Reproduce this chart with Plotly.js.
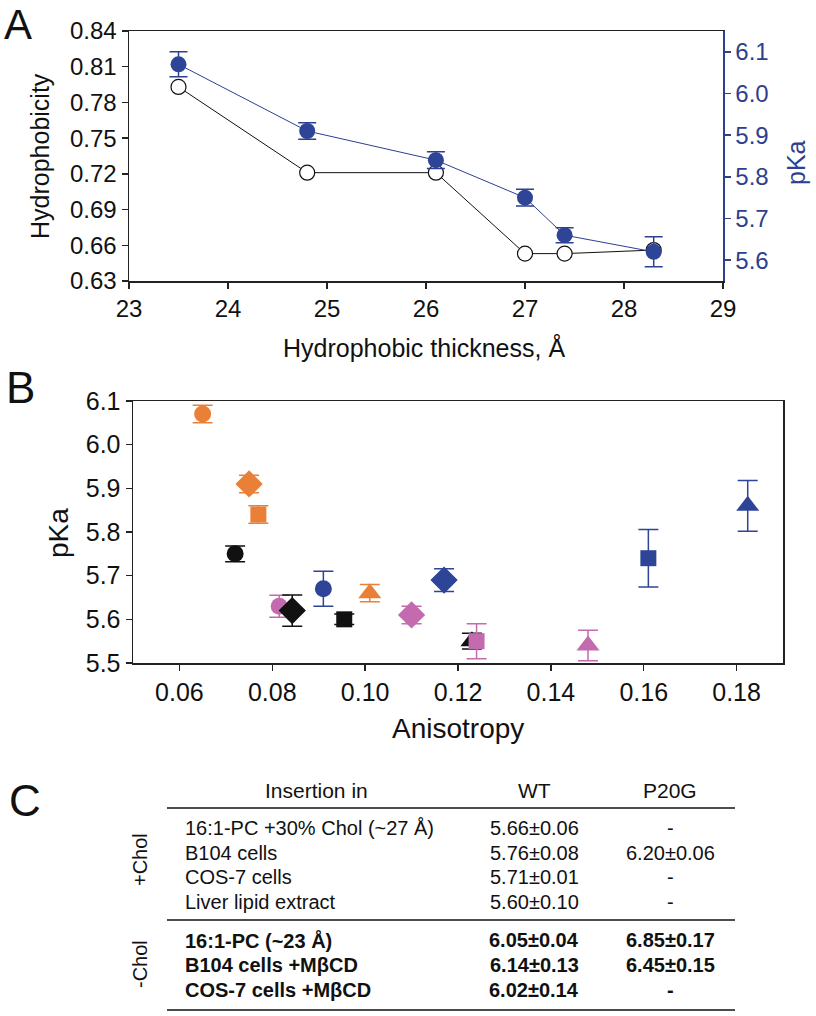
<!DOCTYPE html>
<html>
<head>
<meta charset="utf-8">
<script src="https://cdn.plot.ly/plotly-3.0.1.min.js"></script>
<style>html,body{margin:0;padding:0;background:#fff;}#chart{width:816px;height:1016px;}</style>
</head>
<body>
<div id="chart"></div>
<script>
// ---------- Panel A data ----------
const thickness = [23.5, 24.8, 26.1, 27.0, 27.4, 28.3];
const hydrophobicity = [0.793, 0.721, 0.721, 0.653, 0.653, 0.656];
const pKaA = [6.07, 5.91, 5.84, 5.75, 5.66, 5.62];
const pKaAErr = [0.03, 0.02, 0.02, 0.02, 0.018, 0.036];
const hydroTicks = [0.63, 0.66, 0.69, 0.72, 0.75, 0.78, 0.81, 0.84];
const pKaTicksA = [5.6, 5.7, 5.8, 5.9, 6.0, 6.1];

// ---------- Panel B data (symbols: circle, diamond, square, triangle) ----------
const symbolsB = ['circle', 'diamond', 'square', 'triangle-up'];
const orangeAniso = [0.065, 0.075, 0.077, 0.101];
const orangePKa = [6.07, 5.91, 5.84, 5.66];
const orangeErr = [0.02, 0.02, 0.02, 0.02];
const blackAniso = [0.072, 0.0843, 0.0955, 0.123];
const blackPKa = [5.75, 5.62, 5.60, 5.55];
const blackErr = [0.018, 0.036, 0.012, 0.018];
const pinkAniso = [0.0815, 0.110, 0.124, 0.148];
const pinkPKa = [5.63, 5.61, 5.55, 5.54];
const pinkErr = [0.025, 0.02, 0.04, 0.035];
const blueAniso = [0.091, 0.117, 0.161, 0.1824];
const bluePKa = [5.67, 5.69, 5.74, 5.86];
const blueErr = [0.04, 0.026, 0.066, 0.058];
const anisoTicks = [0.06, 0.08, 0.10, 0.12, 0.14, 0.16, 0.18];
const pKaTicksB = [5.5, 5.6, 5.7, 5.8, 5.9, 6.0, 6.1];

// ---------- Panel C table ----------
const tableHeader = ['Insertion in', 'WT', 'P20G'];
const groupPlusLabel = '+Chol';
const groupMinusLabel = '-Chol';
const rowsPlus = ['16:1-PC +30% Chol (~27 Å)', 'B104 cells', 'COS-7 cells', 'Liver lipid extract'];
const wtPlus = ['5.66±0.06', '5.76±0.08', '5.71±0.01', '5.60±0.10'];
const p20gPlus = ['-', '6.20±0.06', '-', '-'];
const rowsMinus = ['16:1-PC (~23 Å)', 'B104 cells +MβCD', 'COS-7 cells +MβCD'];
const wtMinus = ['6.05±0.04', '6.14±0.13', '6.02±0.14'];
const p20gMinus = ['6.85±0.17', '6.45±0.15', '-'];

// ---------- helpers ----------
const W = 816, H = 1016;
const fx = p => p / W;
const fy = p => 1 - p / H;
const FONT = 'Liberation Sans, Arial, Helvetica, sans-serif';
const NAVY = '#2E3F8F';
const BLUE = '#2E4597';
const ORANGE = '#EA8038';
const PINK = '#C46AAE';
const BLACK = '#111111';
const sizeFor = {'circle': 17, 'diamond': 21, 'square': 16, 'triangle-up': 20};

// build a panel-B trace from a subset (index list) of one colour group
function groupTrace(xs, ys, errs, color, idx) {
  return {
    type: 'scatter', mode: 'markers', xaxis: 'x2', yaxis: 'y3',
    x: idx.map(i => xs[i]), y: idx.map(i => ys[i]),
    error_y: {type: 'data', array: idx.map(i => errs[i]), visible: true, color: color, thickness: 1.5, width: 10},
    marker: {symbol: idx.map(i => symbolsB[i]), size: idx.map(i => sizeFor[symbolsB[i]]),
             color: color, opacity: 1, line: {width: 0}},
    showlegend: false
  };
}
const ALL = [0, 1, 2, 3];

const traces = [
  {
    type: 'scatter', mode: 'lines+markers', x: thickness, y: hydrophobicity,
    xaxis: 'x', yaxis: 'y',
    line: {color: BLACK, width: 1},
    marker: {symbol: 'circle', size: 15, color: '#ffffff', opacity: 1, line: {color: BLACK, width: 1.2}},
    showlegend: false
  },
  {
    type: 'scatter', mode: 'lines+markers', x: thickness, y: pKaA,
    xaxis: 'x', yaxis: 'y2',
    line: {color: NAVY, width: 1},
    error_y: {type: 'data', array: pKaAErr, visible: true, color: NAVY, thickness: 1.5, width: 9},
    marker: {symbol: 'circle', size: 16, color: BLUE, opacity: 1},
    showlegend: false
  },
  groupTrace(orangeAniso, orangePKa, orangeErr, ORANGE, ALL),
  groupTrace(pinkAniso, pinkPKa, pinkErr, PINK, [0]),
  groupTrace(blackAniso, blackPKa, blackErr, BLACK, ALL),
  groupTrace(pinkAniso, pinkPKa, pinkErr, PINK, [1, 2, 3]),
  groupTrace(blueAniso, bluePKa, blueErr, BLUE, ALL)
];

const axisCommon = {
  showgrid: false, zeroline: false, showline: true, linecolor: '#222', linewidth: 1.5,
  ticks: 'outside', ticklen: 6, tickwidth: 1.5, tickcolor: '#222'
};

const annotations = [];
const shapes = [];
function txt(x, y, text, size, opts) {
  annotations.push(Object.assign({
    xref: 'paper', yref: 'paper', x: fx(x), y: fy(y), text: text, showarrow: false,
    xanchor: 'center', yanchor: 'middle', font: {family: FONT, size: size, color: '#111'}
  }, opts || {}));
}
// Panel letters
txt(18, 0, 'A', 42, {yanchor: 'top', borderpad: 0});
txt(20, 387, 'B', 44);
txt(25, 800, 'C', 44);
// Axis titles
txt(40, 156, 'Hydrophobicity', 25, {textangle: -90});
txt(424, 347, 'Hydrophobic thickness, Å', 25);
txt(796, 163, 'pKa', 25, {textangle: -90, font: {family: FONT, size: 25, color: NAVY}});
txt(58, 533, 'pKa', 28, {textangle: -90});
txt(458, 728, 'Anisotropy', 28);

// Table
const tableX0 = 167, tableX1 = 735;
const colX = [316, 534, 670];
tableHeader.forEach((h, i) => txt(colX[i], 790, h, 21));
[808, 920, 1010].forEach(y => shapes.push({type: 'line', xref: 'paper', yref: 'paper',
  x0: fx(tableX0), x1: fx(tableX1), y0: fy(y), y1: fy(y), line: {color: '#111', width: 1.5}}));
const plusY = [828, 852.5, 877, 901.5];
rowsPlus.forEach((r, i) => {
  txt(183, plusY[i], r, 20, {xanchor: 'left'});
  txt(colX[1], plusY[i], wtPlus[i], 20);
  txt(colX[2], plusY[i], p20gPlus[i], 20);
});
const minusY = [940, 965, 989.5];
rowsMinus.forEach((r, i) => {
  txt(183, minusY[i], '<b>' + r + '</b>', 20, {xanchor: 'left'});
  txt(colX[1], minusY[i], '<b>' + wtMinus[i] + '</b>', 20);
  txt(colX[2], minusY[i], '<b>' + p20gMinus[i] + '</b>', 20);
});
txt(140, 860, groupPlusLabel, 20, {textangle: -90});
txt(140, 964, groupMinusLabel, 20, {textangle: -90});

const layout = {
  width: W, height: H, margin: {l: 0, r: 0, t: 0, b: 0},
  paper_bgcolor: '#fff', plot_bgcolor: '#fff', showlegend: false,
  font: {family: FONT, color: '#111'},
  xaxis: Object.assign({}, axisCommon, {
    domain: [fx(129), fx(723)], range: [23, 29], dtick: 1, tick0: 23, anchor: 'y', mirror: true,
    tickfont: {family: FONT, size: 24, color: '#111'}
  }),
  yaxis: Object.assign({}, axisCommon, {
    domain: [fy(281), fy(31)], range: [0.63, 0.84], tickvals: hydroTicks, tickformat: '.2f', anchor: 'x',
    tickfont: {family: FONT, size: 24, color: '#111'}
  }),
  yaxis2: Object.assign({}, axisCommon, {
    overlaying: 'y', side: 'right', anchor: 'x', range: [5.55, 6.15], tickvals: pKaTicksA, tickformat: '.1f',
    linecolor: NAVY, tickcolor: NAVY, tickfont: {family: FONT, size: 24, color: NAVY}
  }),
  xaxis2: Object.assign({}, axisCommon, {
    domain: [fx(133), fx(783)], range: [0.05, 0.19], tickvals: anisoTicks, tickformat: '.2f', anchor: 'y3', mirror: true,
    tickfont: {family: FONT, size: 25, color: '#111'}
  }),
  yaxis3: Object.assign({}, axisCommon, {
    domain: [fy(663), fy(401)], range: [5.5, 6.1], tickvals: pKaTicksB, tickformat: '.1f', anchor: 'x2', mirror: true,
    tickfont: {family: FONT, size: 25, color: '#111'}
  }),
  annotations: annotations,
  shapes: shapes
};

Plotly.newPlot('chart', traces, layout, {displayModeBar: false, staticPlot: true});
</script>
</body>
</html>
